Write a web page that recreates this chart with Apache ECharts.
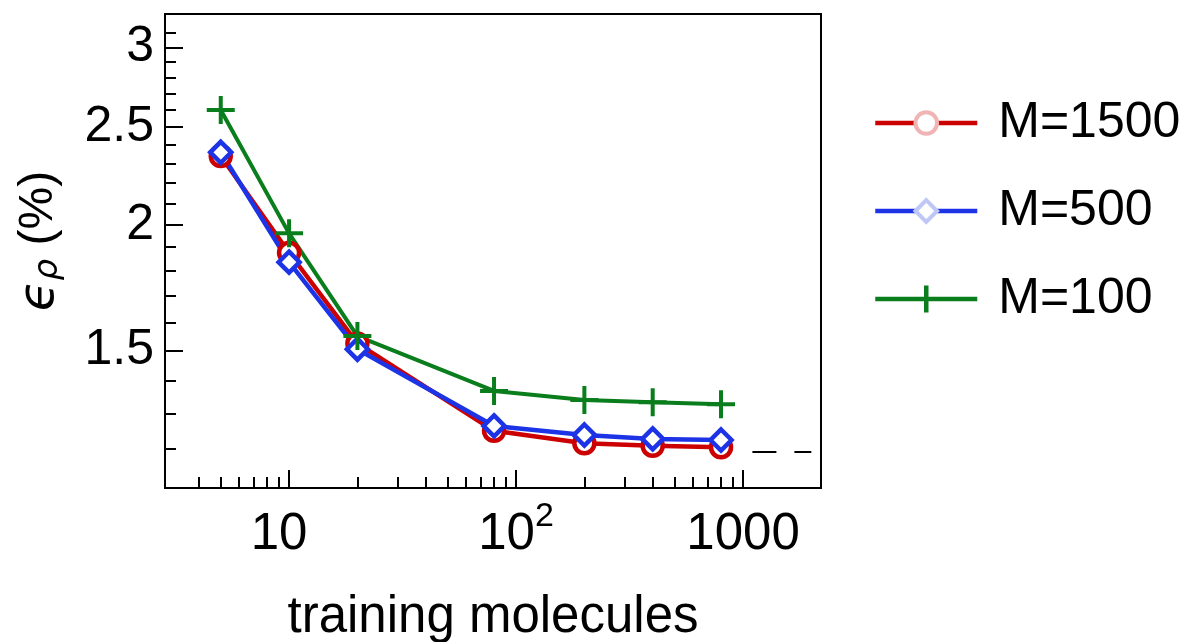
<!DOCTYPE html>
<html>
<head>
<meta charset="utf-8">
<script src="https://cdn.jsdelivr.net/npm/echarts@6/dist/echarts.min.js"></script>
<style>
  html, body { margin: 0; padding: 0; background: #fff; }
  #chart { width: 1183px; height: 642px; }
</style>
</head>
<body>
<div id="chart"></div>
<script>
// values
const trainingMolecules = [5, 10, 20, 80, 200, 400, 800]
const errM1500 = [2.34, 1.876, 1.525, 1.249, 1.214, 1.207, 1.203]
const errM500 = [2.36, 1.836, 1.505, 1.263, 1.237, 1.226, 1.223]
const errM100 = [2.60, 1.961, 1.551, 1.368, 1.340, 1.333, 1.327]
const refX = [1100, 2000]
const refY = [1.19, 1.19]

const xMajorTicks = [10, 100, 1000]
const xMajorLabels = ['{bl|10}', '{b|10}{s|2}', '{b|1000}']
const xMinorTicks = [4, 5, 6, 7, 8, 9, 20, 30, 40, 50, 60, 70, 80, 90, 200, 300, 400, 500, 600, 700, 800, 900]
const yMajorTicks = [1.5, 2, 2.5, 3]
const yMajorLabels = ['1.5', '2', '2.5', '3']
const yMinorTicks = [1.2, 1.3, 1.4, 1.6, 1.7, 1.8, 1.9, 2.1, 2.2, 2.3, 2.4, 2.6, 2.7, 2.8, 2.9, 3.1]
const xRange = [2.84, 2206]
const yRange = [1.096, 3.237]

// both axes are logarithmic in the figure: plot log10 values on value axes
const lg = v => Math.log10(v)
const pairs = (xs, ys) => xs.map((x, i) => [lg(x), lg(ys[i])])
const pickLabel = (ticks, labels, value) => {
  const i = ticks.findIndex(t => Math.abs(lg(t) - value) < 1e-6)
  return i >= 0 ? labels[i] : ''
}

const RED = '#cc0000'
const BLUE = '#1c33e6'
const GREEN = '#0a7d1c'
const PLUS = 'path://M0,5 L10,5 M5,0 L5,10'

const chart = echarts.init(document.getElementById('chart'))

const minorX = {
  type: 'value', position: 'bottom',
  min: lg(xRange[0]), max: lg(xRange[1]),
  axisLine: { show: false },
  axisTick: { show: true, inside: true, length: 11, lineStyle: { color: '#000', width: 2 }, customValues: xMinorTicks.map(lg) },
  axisLabel: { show: false },
  splitLine: { show: false }
}
const minorY = {
  type: 'value', position: 'left',
  min: lg(yRange[0]), max: lg(yRange[1]),
  axisLine: { show: false },
  axisTick: { show: true, inside: true, length: 11, lineStyle: { color: '#000', width: 2 }, customValues: yMinorTicks.map(lg) },
  axisLabel: { show: false },
  splitLine: { show: false }
}

const option = {
  animation: false,
  textStyle: { fontFamily: 'Liberation Sans' },
  grid: {
    left: 165, right: 362, top: 14, bottom: 154,
    outerBoundsMode: 'none',
    containLabel: false,
    show: true, borderColor: '#000', borderWidth: 2, backgroundColor: 'transparent'
  },
  legend: {
    orient: 'vertical',
    left: 873, top: 98,
    itemWidth: 102, itemHeight: 27, itemGap: 38,
    symbolKeepAspect: false,
    padding: 0,
    textStyle: { fontSize: 50, color: '#000', padding: [0, 0, 0, 16] },
    data: [
      { name: 'M=1500', itemStyle: { color: '#fff', borderColor: '#f0b4b4', borderWidth: 4 }, lineStyle: { width: 4.5 } },
      { name: 'M=500', itemStyle: { color: '#fff', borderColor: '#bfc7f7', borderWidth: 4 }, lineStyle: { width: 4.5 } },
      {
        name: 'M=100',
        icon: 'path://M0,13.5 L102,13.5 M51,0 L51,27',
        itemStyle: { color: GREEN, borderColor: GREEN, borderWidth: 4.5 }
      }
    ]
  },
  xAxis: [
    {
      type: 'value', position: 'bottom',
      min: lg(xRange[0]), max: lg(xRange[1]),
      axisLine: { show: false },
      axisTick: { show: true, inside: true, length: 18, lineStyle: { color: '#000', width: 2 }, customValues: xMajorTicks.map(lg) },
      axisLabel: {
        customValues: xMajorTicks.map(lg),
        formatter: v => pickLabel(xMajorTicks, xMajorLabels, v),
        margin: 12,
        rich: {
          b: { fontSize: 51, lineHeight: 70, color: '#000' },
          bl: { fontSize: 51, lineHeight: 70, padding: [0, 20, 0, 0], color: '#000' },
          s: { fontSize: 34, lineHeight: 34, verticalAlign: 'top', color: '#000' }
        }
      },
      splitLine: { show: false },
      name: 'training molecules',
      nameLocation: 'middle',
      nameGap: 104,
      nameTextStyle: { fontSize: 51, color: '#000' }
    },
    minorX
  ],
  yAxis: [
    {
      type: 'value', position: 'left',
      min: lg(yRange[0]), max: lg(yRange[1]),
      axisLine: { show: false },
      axisTick: { show: true, inside: true, length: 18, lineStyle: { color: '#000', width: 2 }, customValues: yMajorTicks.map(lg) },
      axisLabel: {
        customValues: yMajorTicks.map(lg),
        formatter: v => pickLabel(yMajorTicks, yMajorLabels, v),
        fontSize: 50, color: '#000', margin: 11
      },
      splitLine: { show: false },
      name: '{e|ϵ}{r|ρ}{t| (%)}',
      nameLocation: 'middle',
      nameGap: 100,
      nameTextStyle: {
        padding: [0, 0, 0, 20],
        rich: {
          e: { fontFamily: 'DejaVu Sans', fontStyle: 'italic', fontSize: 50, lineHeight: 50, verticalAlign: 'top', color: '#000' },
          r: { fontFamily: 'DejaVu Sans', fontStyle: 'italic', fontSize: 34, lineHeight: 34, verticalAlign: 'bottom', padding: [18, 0, 0, 0], color: '#000' },
          t: { fontSize: 48, lineHeight: 50, verticalAlign: 'top', color: '#000' }
        }
      }
    },
    minorY
  ],
  series: [
    {
      name: 'M=1500', type: 'line',
      data: pairs(trainingMolecules, errM1500),
      symbol: 'circle', symbolSize: 20,
      itemStyle: { color: '#fff', borderColor: RED, borderWidth: 4.5 },
      lineStyle: { color: RED, width: 4.5 },
      emphasis: { disabled: true }
    },
    {
      name: 'M=500', type: 'line',
      data: pairs(trainingMolecules, errM500),
      symbol: 'diamond', symbolSize: 21,
      itemStyle: { color: '#fff', borderColor: BLUE, borderWidth: 4.5 },
      lineStyle: { color: BLUE, width: 4.5 },
      emphasis: { disabled: true }
    },
    {
      name: 'M=100', type: 'line',
      data: pairs(trainingMolecules, errM100),
      symbol: PLUS, symbolSize: 28,
      itemStyle: { color: GREEN, borderColor: GREEN, borderWidth: 4 },
      lineStyle: { color: GREEN, width: 4 },
      emphasis: { disabled: true }
    },
    {
      name: 'reference', type: 'line',
      data: pairs(refX, refY),
      symbol: 'none',
      lineStyle: { color: '#000', width: 2, type: [24, 18] },
      silent: true
    }
  ]
}

chart.setOption(option)
window.addEventListener('resize', () => chart.resize())
</script>
</body>
</html>
